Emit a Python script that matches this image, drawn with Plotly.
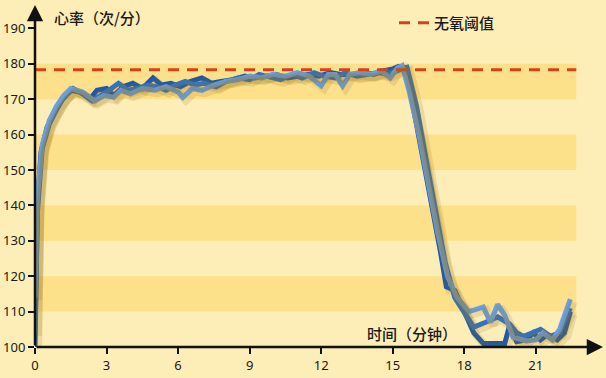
import plotly.graph_objects as go

# ---- data ----
t_dark = [0, 0.1, 0.25, 0.5, 0.8, 1.1, 1.5, 1.9, 2.3, 2.6, 3.0, 3.3, 3.7, 4.1, 4.5, 4.95, 5.3, 5.7, 6.1,
          6.5, 7.0, 7.4, 7.8, 8.3, 8.8, 9.2, 9.7, 10.1, 10.6, 11.0, 11.5, 11.9, 12.4, 12.8, 13.3, 13.7,
          14.2, 14.6, 15.0, 15.25, 15.5, 15.8, 16.2, 16.6, 17.0, 17.25, 17.6, 18.0, 18.4, 18.8, 19.4,
          19.7, 19.9, 20.2, 20.6, 20.9, 21.2, 21.5, 21.9, 22.2, 22.45]
hr_dark = [100, 140, 155, 162, 166, 169.5, 172.5, 172, 170, 172.5, 173, 171, 173.5, 174.5, 173, 176, 174,
           174.5, 173.5, 175, 176, 174.5, 175, 175.5, 176.5, 176, 176.5, 177, 176, 176.5, 177, 176.5,
           177.5, 177, 177, 177.5, 177, 178, 178.5, 179.3, 179, 170, 156, 141, 127, 117, 116, 110, 104,
           101, 101, 101, 106, 101.5, 102, 104, 102, 103.5, 102, 104, 110]

t_mid = [0, 0.1, 0.3, 0.6, 0.9, 1.2, 1.6, 2.0, 2.4, 2.8, 3.1, 3.5, 3.9, 4.3, 4.7, 5.1, 5.5, 5.9, 6.3,
         6.7, 7.1, 7.6, 8.0, 8.5, 9.0, 9.4, 9.9, 10.3, 10.8, 11.2, 11.7, 12.1, 12.6, 13.0, 13.5, 13.9,
         14.4, 14.8, 15.1, 15.35, 15.6, 16.0, 16.4, 16.8, 17.2, 17.6, 18.0, 18.4, 18.9, 19.4, 19.9,
         20.2, 20.5, 20.9, 21.2, 21.6, 22.0, 22.45]
hr_mid = [104, 138, 156, 163, 167, 170.5, 173, 171.5, 169.5, 171, 172.5, 174.5, 172.5, 173, 174, 173.5,
          172.5, 174, 175, 174, 174.5, 173.5, 175, 176, 175.5, 177, 176, 175.5, 177, 176, 177.5, 176.5,
          176, 177.5, 176.5, 177, 177.5, 177, 178, 178.5, 179, 168, 153, 138, 124, 114, 110, 105.6, 107,
          108.5, 106.5, 104, 103, 104, 105, 103, 104, 111]

t_light = [0, 0.1, 0.3, 0.6, 0.9, 1.2, 1.5, 2.0, 2.5, 2.9, 3.3, 3.6, 4.0, 4.5, 5.0, 5.5, 6.0, 6.2, 6.6,
           7.0, 7.5, 8.0, 8.5, 9.0, 9.5, 10.0, 10.5, 11.0, 11.5, 12.0, 12.3, 12.6, 12.9, 13.2, 13.6,
           14.1, 14.5, 14.9, 15.2, 15.4, 15.7, 16.1, 16.5, 16.9, 17.3, 17.7, 18.2, 18.8, 19.1, 19.4,
           19.7, 20.05, 20.6, 21.0, 21.3, 21.7, 22.0, 22.45]
hr_light = [114, 142, 157, 164, 168, 171, 173, 172, 169.5, 171, 170.5, 172.5, 171.5, 173, 172.5, 173.5,
            172, 170.5, 173, 172.5, 174, 175, 175.5, 176.5, 176, 177, 176.5, 177.5, 176.5, 173.8, 177,
            177, 173.8, 177, 177.5, 177, 178, 176, 178.8, 179.5, 172, 160, 146, 132, 120, 114, 110,
            111.3, 107, 112, 109, 102.8, 101.7, 102, 104, 102, 105, 113.5]

threshold = 178.3
band_lows = [110, 130, 150, 170]
band_height = 10
x_end = 22.7
x_ticks = [0, 3, 6, 9, 12, 15, 18, 21]
y_ticks = [100, 110, 120, 130, 140, 150, 160, 170, 180, 190]

series = [
    (t_dark, hr_dark, "#1a58b0"),
    (t_mid, hr_mid, "#2b73cc"),
    (t_light, hr_light, "#6a9fe0"),
]

# ---- layout geometry ----
W, H = 606, 378
ml, mr, mt, mb = 35, 3, 5, 31
x_range = [0, 23.82]
y_range = [100, 196.6]
px_x = (W - ml - mr) / (x_range[1] - x_range[0])
px_y = (H - mt - mb) / (y_range[1] - y_range[0])
shadow_dx, shadow_dy = 3, 3

fig = go.Figure()

# soft shadows on shifted overlay axes
for t, hr, c in series:
    fig.add_trace(go.Scatter(x=t, y=hr, mode="lines", xaxis="x2", yaxis="y2",
                             line=dict(color="rgba(150,110,20,0.16)", width=8),
                             hoverinfo="skip", showlegend=False))

for t, hr, c in series:
    fig.add_trace(go.Scatter(x=t, y=hr, mode="lines",
                             line=dict(color=c, width=5),
                             showlegend=False))

fig.add_trace(go.Scatter(x=[0, x_end], y=[threshold, threshold], mode="lines",
                         line=dict(color="#d8401c", width=3, dash="11px,8px"),
                         name="无氧阈值", showlegend=True))

shapes = []
for lo in band_lows:
    shapes.append(dict(type="rect", xref="x", yref="y", x0=0, x1=x_end, y0=lo, y1=lo + band_height,
                       fillcolor="#fde08a", line=dict(width=0), layer="below"))

cjk = dict(family="Noto Sans CJK SC", size=15, color="#1a1a1a", weight=500)

annotations = [
    dict(xref="x", yref="y", axref="x", ayref="y", x=0, y=y_range[1], ax=0, ay=100,
         showarrow=True, arrowhead=2, arrowsize=1.3, arrowwidth=2.5, arrowcolor="#111", text=""),
    dict(xref="x", yref="y", axref="x", ayref="y", x=x_range[1], y=100, ax=0, ay=100,
         showarrow=True, arrowhead=2, arrowsize=1.3, arrowwidth=2.5, arrowcolor="#111", text=""),
    dict(xref="paper", yref="paper", x=(52 - ml) / (W - ml - mr), y=(H - mb - 17) / (H - mt - mb),
         xanchor="left", yanchor="middle", showarrow=False, text="心率（次/分）", font=cjk),
    dict(xref="paper", yref="paper", x=(365 - ml) / (W - ml - mr), y=(H - mb - 333) / (H - mt - mb),
         xanchor="left", yanchor="middle", showarrow=False, text="时间（分钟）", font=cjk),
]

fig.update_layout(
    width=W, height=H,
    margin=dict(l=ml, r=mr, t=mt, b=mb),
    paper_bgcolor="#fdedb6", plot_bgcolor="#fdedb6",
    shapes=shapes, annotations=annotations,
    showlegend=True,
    legend=dict(x=(394 - ml) / (W - ml - mr), y=(H - mb - 23) / (H - mt - mb), xanchor="left",
                yanchor="middle", bgcolor="rgba(0,0,0,0)", font=cjk),
    xaxis=dict(range=x_range, tickvals=x_ticks, showgrid=False, zeroline=False, showline=False,
               ticks="outside", ticklen=6, tickwidth=2, tickcolor="#111",
               tickfont=dict(family="Noto Sans", size=13, color="#1a1a1a")),
    yaxis=dict(range=y_range, tickvals=y_ticks, showgrid=False, zeroline=False, showline=False,
               ticks="outside", ticklen=6, tickwidth=2, tickcolor="#111",
               tickfont=dict(family="Noto Sans", size=13, color="#1a1a1a")),
    xaxis2=dict(range=[x_range[0] - shadow_dx / px_x, x_range[1] - shadow_dx / px_x],
                overlaying="x", visible=False),
    yaxis2=dict(range=[y_range[0] + shadow_dy / px_y, y_range[1] + shadow_dy / px_y],
                overlaying="y", visible=False),
)

fig.write_html("out.html")
